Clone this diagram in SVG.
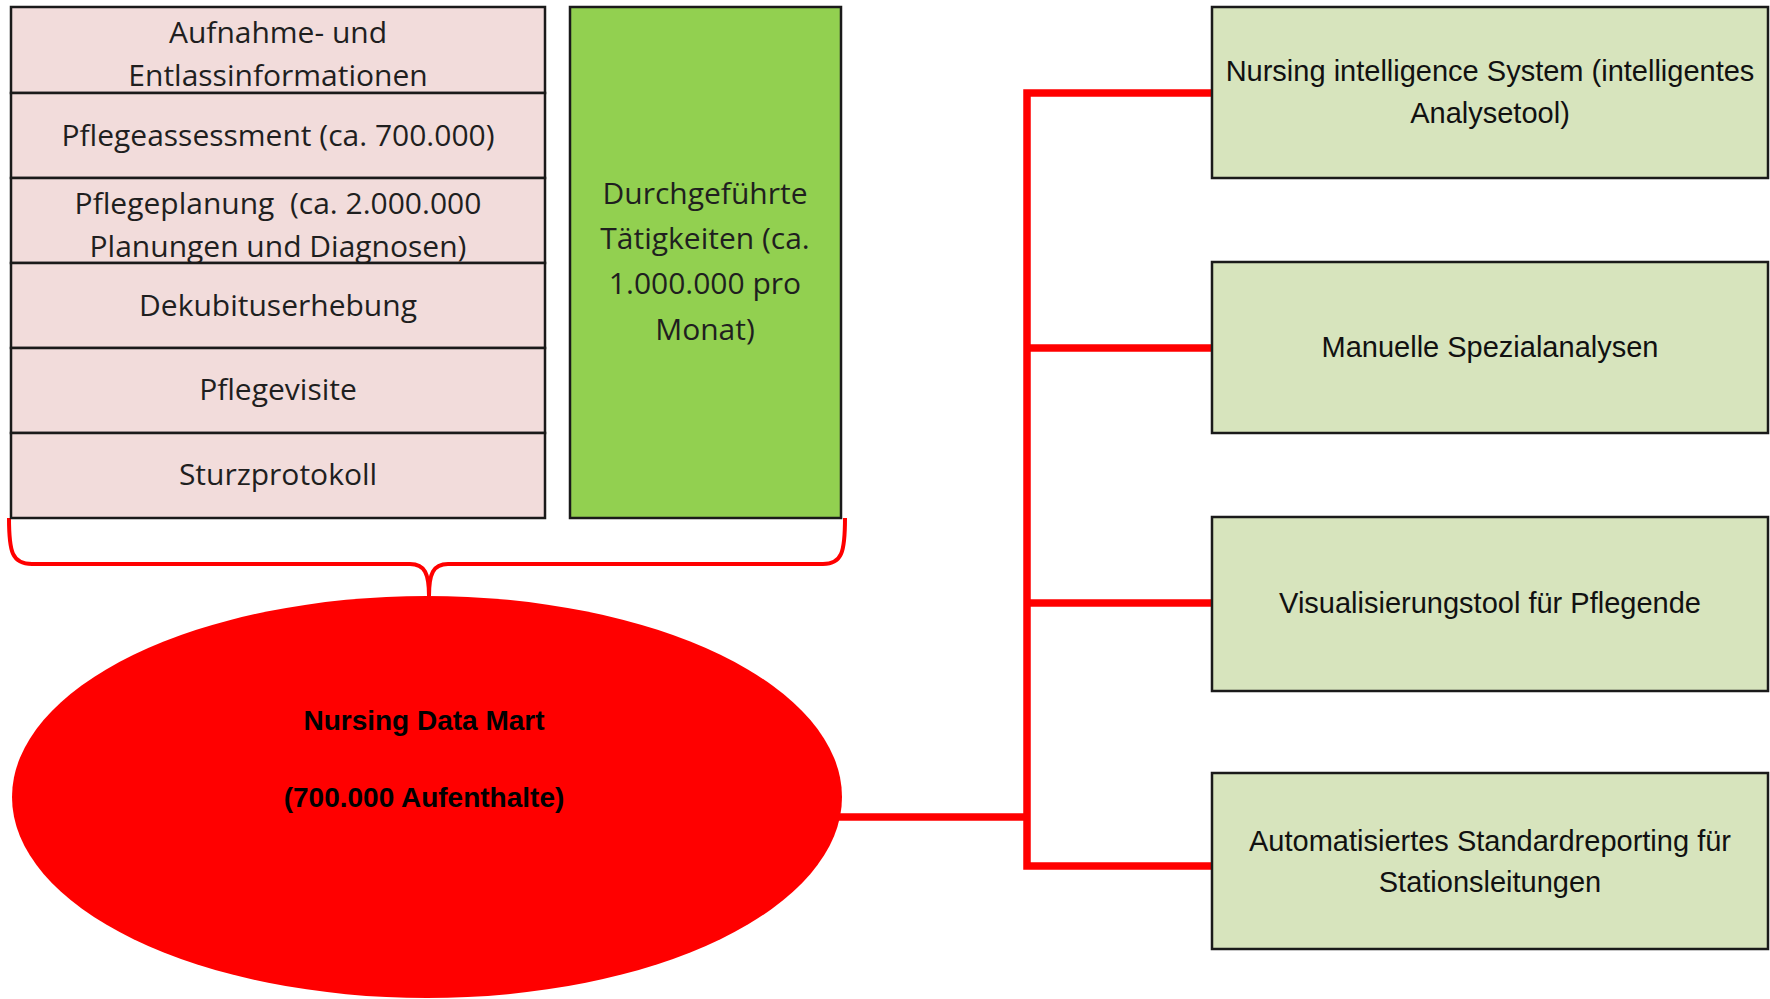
<svg xmlns="http://www.w3.org/2000/svg" width="1770" height="999" viewBox="0 0 1770 999">
<style>
.bg{fill:#ffffff}
.row{fill:#F2DCDB;stroke:#1a1a1a;stroke-width:2.5}
.act{fill:#92D050;stroke:#1a1a1a;stroke-width:2.5}
.out{fill:#D7E4BD;stroke:#1a1a1a;stroke-width:2.5}
.t1{font-family:"Open Sans","Noto Sans",sans-serif;font-size:30px;fill:#1f1f1f;text-anchor:middle}
.t2{font-family:"Liberation Sans",Arial,sans-serif;font-size:29px;fill:#111111;text-anchor:middle}
.t3{font-family:"Liberation Sans",Arial,sans-serif;font-size:28px;font-weight:bold;fill:#000000;text-anchor:middle}
.conn{fill:none;stroke:#FF0000;stroke-width:7.5;stroke-linejoin:miter;stroke-linecap:butt}
.brace{fill:none;stroke:#FF0000;stroke-width:4}
</style>
<rect class="bg" x="0" y="0" width="1770" height="999"/>

<g id="connectors">
  <path class="brace" d="M 9 518 C 9 552 12 564 32 564 L 410 564 C 425 564 429 574 429 596 C 429 574 433 564 448 564 L 823 564 C 842 564 845 552 845 518"/>
  <path class="conn" d="M 1212 93 H 1027 V 866 H 1212"/>
  <path class="conn" d="M 1027 348 H 1212"/>
  <path class="conn" d="M 1027 603 H 1212"/>
  <path class="conn" d="M 838 817 H 1027"/>
</g>

<g id="source-table">
  <g id="row-aufnahme">
    <rect class="row" x="11" y="7" width="534" height="86"/>
    <text class="t1" x="278" y="43">Aufnahme- und</text>
    <text class="t1" x="278" y="86">Entlassinformationen</text>
  </g>
  <g id="row-assessment">
    <rect class="row" x="11" y="93" width="534" height="85"/>
    <text class="t1" x="278" y="146">Pflegeassessment (ca. 700.000)</text>
  </g>
  <g id="row-planung">
    <rect class="row" x="11" y="178" width="534" height="85"/>
    <text class="t1" x="278" y="214" xml:space="preserve">Pflegeplanung  (ca. 2.000.000</text>
    <text class="t1" x="278" y="257">Planungen und Diagnosen)</text>
  </g>
  <g id="row-dekubitus">
    <rect class="row" x="11" y="263" width="534" height="85"/>
    <text class="t1" x="278" y="316">Dekubituserhebung</text>
  </g>
  <g id="row-visite">
    <rect class="row" x="11" y="348" width="534" height="85"/>
    <text class="t1" x="278" y="400">Pflegevisite</text>
  </g>
  <g id="row-sturz">
    <rect class="row" x="11" y="433" width="534" height="85"/>
    <text class="t1" x="278" y="485">Sturzprotokoll</text>
  </g>
</g>

<g id="activities">
  <rect class="act" x="570" y="7" width="271" height="511"/>
  <text class="t1" x="705" y="204">Durchgeführte</text>
  <text class="t1" x="705" y="249">Tätigkeiten (ca.</text>
  <text class="t1" x="705" y="294">1.000.000 pro</text>
  <text class="t1" x="705" y="340">Monat)</text>
</g>

<g id="data-mart">
  <ellipse cx="427" cy="797" rx="415" ry="201" fill="#FF0000"/>
  <text class="t3" x="424" y="730">Nursing Data Mart</text>
  <text class="t3" x="424" y="807">(700.000 Aufenthalte)</text>
</g>

<g id="nis">
  <rect class="out" x="1212" y="7" width="556" height="171"/>
  <text class="t2" x="1490" y="81">Nursing intelligence System (intelligentes</text>
  <text class="t2" x="1490" y="123">Analysetool)</text>
</g>
<g id="manuell">
  <rect class="out" x="1212" y="262" width="556" height="171"/>
  <text class="t2" x="1490" y="357">Manuelle Spezialanalysen</text>
</g>
<g id="visual">
  <rect class="out" x="1212" y="517" width="556" height="174"/>
  <text class="t2" x="1490" y="613">Visualisierungstool für Pflegende</text>
</g>
<g id="reporting">
  <rect class="out" x="1212" y="773" width="556" height="176"/>
  <text class="t2" x="1490" y="851">Automatisiertes Standardreporting für</text>
  <text class="t2" x="1490" y="892">Stationsleitungen</text>
</g>
</svg>
